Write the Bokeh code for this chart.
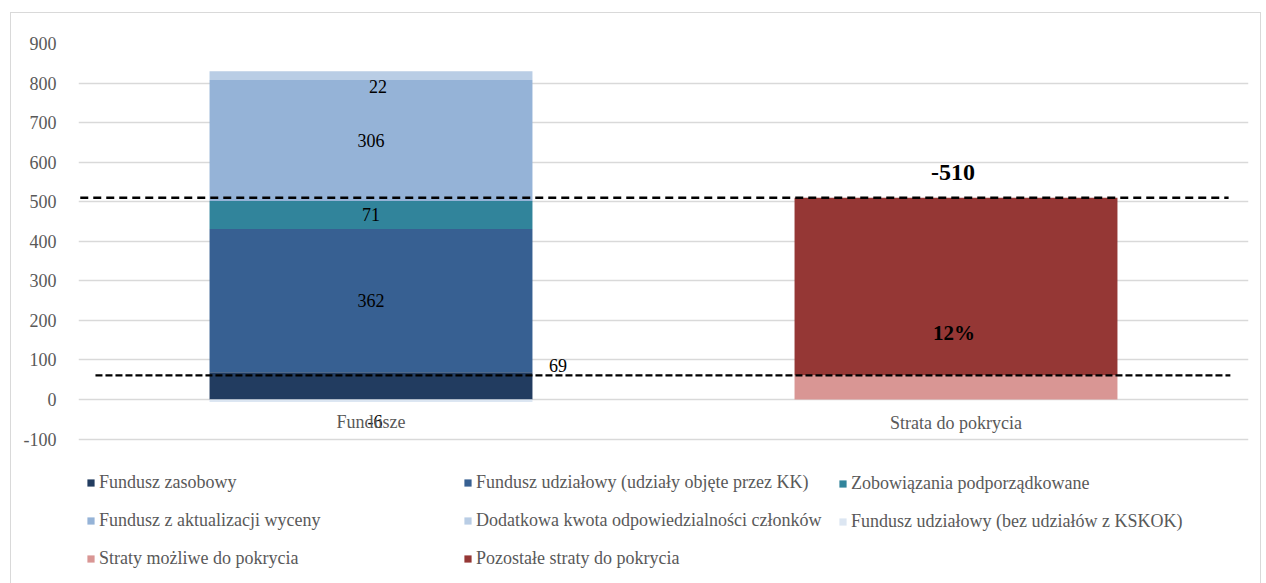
import numpy as np
from bokeh.plotting import figure
from bokeh.models import (ColumnDataSource, FactorRange, Range1d, FixedTicker,
                          Legend, LegendItem, PrintfTickFormatter)
from bokeh.core.properties import value
from bokeh.embed import file_html
from bokeh.resources import INLINE

# ---------------- data ----------------
categories = ["Fundusze", "Strata do pokrycia"]

fund_series = [
    "Fundusz zasobowy",
    "Fundusz udziałowy (udziały objęte przez KK)",
    "Zobowiązania podporządkowane",
    "Fundusz z aktualizacji wyceny",
    "Dodatkowa kwota odpowiedzialności członków",
    "Fundusz udziałowy (bez udziałów z KSKOK)",
]
fund_values = [69, 362, 71, 306, 22, -6]

loss_series = ["Straty możliwe do pokrycia", "Pozostałe straty do pokrycia"]
loss_values = [61, 449]

y_ticks = [-100, 0, 100, 200, 300, 400, 500, 600, 700, 800, 900]

# ---------------- styles ----------------
fund_colors = ["#223C60", "#376092", "#31849B", "#95B3D7", "#B9CDE5", "#DCE6F2"]
loss_colors = ["#D99694", "#953735"]
FONT = "Liberation Serif"
GRAY = "#595959"
FS = "18px"
BAR_W = 0.552

p = figure(x_range=FactorRange(*categories, range_padding=0),
           y_range=Range1d(-477.8, 900),
           width=1251, height=575, output_backend="svg",
           toolbar_location=None, x_axis_location=None,
           min_border_left=67, min_border_right=14,
           min_border_top=30, min_border_bottom=0)
p.styles = {"border": "1px solid #d9d9d9", "margin": "12px 0px 0px 10px"}
p.outline_line_color = None
p.xgrid.grid_line_color = None
p.ygrid.grid_line_color = "#d9d9d9"
p.ygrid.grid_line_width = 1.3
p.yaxis.ticker = FixedTicker(ticks=y_ticks)
p.yaxis.formatter = PrintfTickFormatter(format="%d")
p.yaxis.axis_line_color = None
p.yaxis.major_tick_line_color = None
p.yaxis.minor_tick_line_color = None
p.yaxis.major_label_standoff = 16
p.yaxis.major_label_text_font = FONT
p.yaxis.major_label_text_font_size = FS
p.yaxis.major_label_text_color = GRAY

# ---------------- stacked bars ----------------
def stack(vals):
    pos_base, neg_base = 0.0, 0.0
    bottoms, tops = [], []
    for v in vals:
        if v >= 0:
            bottoms.append(pos_base); tops.append(pos_base + v); pos_base += v
        else:
            bottoms.append(neg_base + v); tops.append(neg_base); neg_base += v
    return bottoms, tops

fb, ft = stack(fund_values)
lb, lt = stack(loss_values)

renderers = {}
for name, b, t, c in zip(fund_series, fb, ft, fund_colors):
    src = ColumnDataSource(dict(x=[categories[0]], bottom=[b], top=[t]))
    renderers[name] = p.vbar(x="x", bottom="bottom", top="top", width=BAR_W,
                             source=src, fill_color=c, line_color=None)
for name, b, t, c in zip(loss_series, lb, lt, loss_colors):
    src = ColumnDataSource(dict(x=[categories[1]], bottom=[b], top=[t]))
    renderers[name] = p.vbar(x="x", bottom="bottom", top="top", width=BAR_W,
                             source=src, fill_color=c, line_color=None)

# ---------------- dashed reference lines ----------------
total_loss = sum(loss_values)
coverable = loss_values[0]
p.segment(x0=[0.003], x1=[1.966], y0=[total_loss], y1=[total_loss],
          line_color="black", line_width=2.6, line_dash="8 5")
p.segment(x0=[0.029], x1=[1.969], y0=[coverable], y1=[coverable],
          line_color="black", line_width=2.2, line_dash="7 3")

# ---------------- data labels ----------------
centers = [(b + t) / 2 for b, t in zip(fb, ft)]
lab_x = [categories[0]] * 6
lab_y = [ft[0]] + centers[1:]
lab_t = [str(v) for v in fund_values]
lab_dx = [187, 0, 0, 0, 7, 4]
lab_dy = [-7, 0, 0, 0, 11, 21]
p.text(x=lab_x, y=lab_y, text=lab_t, x_offset=lab_dx, y_offset=lab_dy,
       text_font=value(FONT), text_font_size=FS, text_color="black",
       text_align="center", text_baseline="middle")

# category labels (at the zero line)
p.text(x=categories, y=[0, 0], text=categories, x_offset=[0, 0], y_offset=[22, 23],
       text_font=value(FONT), text_font_size=FS, text_color=GRAY,
       text_align="center", text_baseline="middle")

# total loss and share labels
share = f"{round(coverable / total_loss * 100)}%"
p.text(x=[categories[1]], y=[total_loss], text=[f"-{total_loss}"], x_offset=[-3], y_offset=[-25],
       text_font=value(FONT), text_font_size="24px", text_font_style="bold",
       text_color="black", text_align="center", text_baseline="middle")
p.text(x=[categories[1]], y=[coverable], text=[share], x_offset=[-2], y_offset=[-42],
       text_font=value(FONT), text_font_size="21px", text_font_style="bold",
       text_color="black", text_align="center", text_baseline="middle")

# ---------------- legend (3 columns) ----------------
all_series = fund_series + loss_series
col_x = [8, 385, 760]
col_bottom = [19, 19, 56]
for j in range(3):
    names = all_series[j::3]
    items = [LegendItem(label=n, renderers=[renderers[n]]) for n in names]
    leg = Legend(items=items, location=(col_x[j], col_bottom[j]),
                 glyph_width=9, glyph_height=9, label_standoff=4,
                 label_height=20, spacing=17, padding=0, margin=0,
                 border_line_alpha=0, background_fill_alpha=0,
                 label_text_font=FONT, label_text_font_size=FS,
                 label_text_color=GRAY, label_text_baseline="middle")
    p.add_layout(leg)

open("out.html", "w").write(file_html(p, INLINE))
